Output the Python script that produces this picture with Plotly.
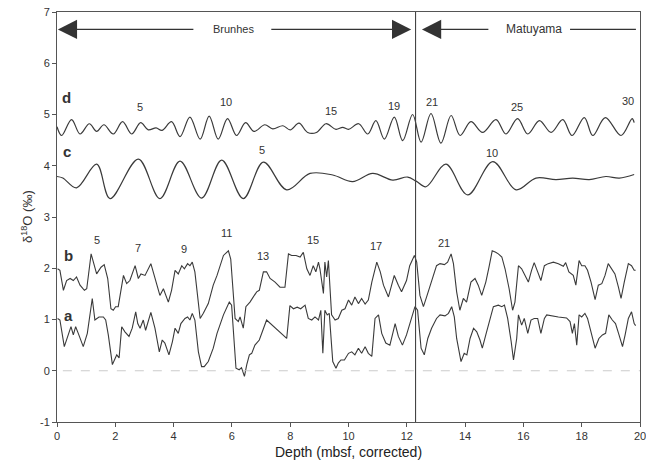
import plotly.graph_objects as go

# ---- data ----
d_x = [0.0, 0.16, 0.5, 0.79, 1.11, 1.36, 1.61, 1.93, 2.25, 2.56, 2.87, 3.13, 3.4, 3.6, 3.93, 4.22, 4.56, 4.91,
       5.22, 5.53, 5.85, 6.16, 6.47, 6.76, 7.13, 7.4, 7.75, 8.0, 8.3, 8.6, 8.9, 9.23, 9.57, 9.8, 10.0, 10.35,
       10.66, 10.94, 11.23, 11.57, 11.86, 12.2, 12.49, 12.83, 13.17, 13.52, 13.83, 14.2, 14.6, 15.06, 15.4,
       15.8, 16.15, 16.55, 16.95, 17.35, 17.67, 18.09, 18.38, 18.81, 19.35, 19.73, 19.8]
d_y = [4.76, 4.59, 4.9, 4.62, 4.82, 4.67, 4.8, 4.62, 4.86, 4.62, 4.84, 4.7, 4.74, 4.69, 4.86, 4.57, 4.95, 4.52,
       4.97, 4.52, 4.92, 4.59, 4.84, 4.67, 4.8, 4.72, 4.78, 4.7, 4.83, 4.65, 4.65, 4.82, 4.71, 4.75, 4.71, 4.82,
       4.62, 4.88, 4.52, 4.95, 4.49, 5.0, 4.46, 5.02, 4.44, 4.98, 4.59, 4.86, 4.65, 4.9, 4.62,
       4.92, 4.62, 4.88, 4.65, 4.9, 4.59, 4.94, 4.59, 4.94, 4.59, 4.92, 4.84]

c_x = [0.0, 0.2, 0.67, 1.36, 1.82, 2.79, 3.53, 4.22, 4.96, 5.65, 6.39, 7.08, 7.88, 8.68, 9.46, 10.14, 10.83,
       11.52, 12.03, 12.32, 12.66, 13.34, 14.09, 14.95, 15.75, 16.43, 17.12, 17.69, 18.26, 18.83, 19.29, 19.8]
c_y = [3.79, 3.76, 3.57, 4.03, 3.36, 4.13, 3.36, 4.09, 3.37, 4.11, 3.36, 4.07, 3.53, 3.85, 3.82, 3.69, 3.85,
       3.72, 3.78, 3.7, 3.59, 4.03, 3.43, 4.08, 3.53, 3.76, 3.73, 3.76, 3.73, 3.79, 3.76, 3.83]

b_x = [0.02, 0.1, 0.22, 0.33, 0.45, 0.56, 0.67, 0.79, 0.94, 1.02, 1.17, 1.28, 1.36, 1.51, 1.62, 1.74, 1.85, 1.93,
       2.01, 2.1, 2.28, 2.39, 2.5, 2.68, 2.79, 2.88, 3.02, 3.22, 3.36, 3.53, 3.65, 3.82, 3.93, 4.05, 4.16, 4.28,
       4.37, 4.48, 4.56, 4.64, 4.73, 4.91, 5.02, 5.19, 5.36, 5.49, 5.71, 5.88, 5.96, 6.11, 6.22, 6.28, 6.39, 6.48,
       6.62, 6.73, 6.85, 6.94, 7.08, 7.19, 7.31, 7.48, 7.65, 7.82, 7.94, 8.05, 8.2, 8.34, 8.45, 8.57, 8.68, 8.79,
       8.88, 8.97, 9.02, 9.14, 9.19, 9.25, 9.31, 9.42, 9.54, 9.65, 9.77, 9.88, 10.0, 10.11, 10.22, 10.34, 10.45,
       10.57, 10.68, 10.8, 10.97, 11.09, 11.2, 11.37, 11.57, 11.71, 11.82, 11.99, 12.1, 12.26, 12.34, 12.45, 12.57,
       12.68, 12.8, 12.91, 13.02, 13.14, 13.29, 13.4, 13.52, 13.6, 13.71, 13.82, 13.94, 14.05, 14.2, 14.34, 14.45,
       14.57, 14.71, 14.82, 14.93, 15.05, 15.14, 15.26, 15.37, 15.51, 15.63, 15.71, 15.83, 15.94, 16.05, 16.17,
       16.28, 16.37, 16.49, 16.6, 16.72, 16.85, 17.03, 17.2, 17.37, 17.45, 17.56, 17.71, 17.8, 17.91, 18.0, 18.11,
       18.2, 18.32, 18.46, 18.57, 18.69, 18.8, 18.91, 19.03, 19.14, 19.26, 19.35, 19.46, 19.6, 19.71, 19.8, 19.85]
b_y = [1.99, 1.96, 1.57, 1.76, 1.8, 1.76, 1.83, 1.67, 1.57, 1.6, 2.28, 2.02, 1.89, 2.02, 2.07, 1.8, 1.21, 1.18,
       1.25, 1.25, 1.86, 1.7, 1.76, 2.05, 1.8, 1.89, 1.86, 2.09, 1.8, 1.47, 1.6, 1.34, 1.57, 1.96, 1.89, 2.05,
       1.99, 2.09, 2.05, 2.12, 1.93, 1.02, 1.12, 1.31, 1.67, 1.86, 2.25, 2.34, 2.18, 1.02, 0.96, 1.05, 0.83, 1.25,
       1.34, 1.44, 1.54, 1.57, 1.93, 1.93, 1.8, 1.73, 1.63, 1.63, 2.28, 2.25, 2.25, 2.22, 2.31, 1.99, 1.86, 2.05,
       1.93, 2.12, 1.99, 1.51, 2.12, 1.83, 2.15, 1.09, 0.99, 1.02, 1.18, 1.21, 1.38, 1.28, 1.44, 1.31, 1.41,
       1.3, 1.38, 1.73, 2.12, 1.93, 1.67, 1.44, 1.86, 1.67, 1.54, 1.76, 2.05, 2.25, 2.12, 1.47, 1.25,
       1.44, 1.67, 1.86, 2.05, 2.09, 2.07, 2.12, 2.28, 2.09, 1.54, 1.18, 1.41, 1.34, 1.73, 1.8, 1.67,
       1.47, 1.73, 2.02, 2.34, 2.31, 2.28, 2.22, 1.99, 1.6, 1.18, 1.34, 2.05, 1.99, 1.86, 1.73,
       1.96, 2.11, 1.93, 1.76, 2.05, 2.09, 2.12, 2.09, 2.04, 2.11, 1.93, 1.86, 1.67, 2.15, 2.05, 2.05,
       1.96, 1.73, 1.39, 1.67, 1.7, 1.86, 2.09, 1.99, 1.89, 1.63, 1.41, 1.73, 2.09, 2.05, 1.96, 1.96]

a_x = [0.02, 0.1, 0.25, 0.37, 0.48, 0.56, 0.64, 0.73, 0.9, 1.04, 1.21, 1.3, 1.44, 1.59, 1.67, 1.76, 1.9, 1.97,
       2.05, 2.13, 2.22, 2.33, 2.47, 2.58, 2.7, 2.77, 2.85, 2.96, 3.04, 3.22, 3.36, 3.51, 3.61, 3.7, 3.84, 3.96,
       4.05, 4.16, 4.25, 4.39, 4.48, 4.56, 4.64, 4.73, 4.85, 4.96, 5.05, 5.19, 5.36, 5.49, 5.71, 5.91, 5.99, 6.14,
       6.25, 6.33, 6.43, 6.51, 6.6, 6.68, 6.79, 6.94, 7.19, 7.88, 7.99, 8.11, 8.24, 8.36, 8.51, 8.62, 8.74, 8.85,
       8.97, 9.05, 9.12, 9.19, 9.27, 9.34, 9.46, 9.57, 9.65, 9.74, 9.86, 10.0, 10.11, 10.22, 10.34, 10.45, 10.57,
       10.68, 10.8, 10.91, 11.03, 11.14, 11.28, 11.42, 11.6, 11.71, 11.85, 11.99, 12.17, 12.28, 12.37, 12.49,
       12.6, 12.72, 12.85, 13.02, 13.14, 13.31, 13.43, 13.54, 13.63, 13.71, 13.86, 13.97, 14.06, 14.17, 14.29,
       14.4, 14.51, 14.59, 14.71, 14.86, 14.97, 15.14, 15.26, 15.35, 15.46, 15.58, 15.66, 15.77, 15.83, 15.94,
       16.03, 16.15, 16.26, 16.37, 16.49, 16.6, 16.72, 16.8, 16.97, 17.2, 17.48, 17.6, 17.68, 17.75, 17.83, 17.91,
       18.0, 18.11, 18.2, 18.32, 18.46, 18.59, 18.71, 18.82, 18.93, 19.05, 19.16, 19.28, 19.4, 19.49, 19.6,
       19.71, 19.8, 19.85]
a_y = [1.02, 0.99, 0.47, 0.7, 0.86, 0.7, 0.86, 0.73, 0.47, 0.73, 1.41, 0.99, 1.05, 1.05, 0.99, 0.7, 0.12, 0.21,
       0.31, 0.25, 0.86, 0.76, 0.67, 0.83, 1.15, 0.92, 0.83, 0.99, 0.79, 1.14, 0.83, 0.37, 0.6, 0.54, 0.31, 0.57,
       0.83, 0.73, 0.92, 1.02, 1.05, 0.99, 1.12, 0.99, 0.37, 0.08, 0.08, 0.18, 0.44, 0.73, 1.09, 1.34, 1.28, 0.05,
       0.02, 0.06, -0.11, 0.12, 0.31, 0.34, 0.5, 0.6, 0.99, 0.63, 1.27, 1.21, 1.24, 1.21, 1.28, 1.02, 0.99, 1.05,
       0.99, 1.18, 0.34, 1.18, 1.09, 1.12, 0.18, 0.05, 0.15, 0.21, 0.21, 0.34, 0.37, 0.31, 0.44, 0.34, 0.47,
       0.34, 0.28, 1.02, 1.09, 0.73, 0.54, 0.5, 0.92, 0.67, 0.5, 0.7, 1.02, 1.25, 1.18, 0.44,
       0.31, 0.63, 0.83, 1.02, 1.09, 1.07, 1.12, 1.25, 1.05, 0.63, 0.18, 0.34, 0.31, 0.63, 0.83,
       0.76, 0.6, 0.44, 0.7, 1.02, 1.25, 1.28, 1.25, 1.28, 1.02, 0.57, 0.21, 0.63, 1.09, 0.89,
       1.02, 0.73, 0.99, 1.02, 1.02, 0.73, 1.02, 1.09, 1.07, 1.05, 1.03, 0.96, 0.73, 0.92, 0.5, 1.09,
       1.05, 1.12, 1.02, 0.76, 0.44, 0.63, 0.7, 0.73, 1.09, 0.99, 0.92, 0.7, 0.47, 0.7, 1.02,
       1.15, 0.92, 0.88]

# stage labels
d_lab = ["5", "10", "15", "19", "21", "25", "30"]
d_lab_x = [2.85, 5.8, 9.4, 11.56, 12.86, 15.78, 19.6]
d_lab_y = [5.15, 5.25, 5.07, 5.17, 5.25, 5.15, 5.27]
c_lab = ["5", "10"]
c_lab_x = [7.03, 14.92]
c_lab_y = [4.3, 4.24]
b_lab = ["5", "7", "9", "11", "13", "15", "17", "21"]
b_lab_x = [1.37, 2.78, 4.36, 5.8, 7.07, 8.78, 10.94, 13.28]
b_lab_y = [2.55, 2.4, 2.38, 2.69, 2.24, 2.55, 2.44, 2.5]
curve_names = ["d", "c", "b", "a"]
curve_name_x = [0.34, 0.34, 0.38, 0.38]
curve_name_y = [5.34, 4.28, 2.24, 1.08]

boundary_depth = 12.3
chron_y = 6.66
x_ticks = list(range(0, 21, 2))
y_ticks = list(range(-1, 8))

LINE = "#3a3a3a"
TXT = "#333333"
FONT = "Liberation Sans, Arial, sans-serif"

fig = go.Figure()
for xs, ys in [(d_x, d_y), (c_x, c_y)]:
    fig.add_trace(go.Scatter(x=xs, y=ys, mode="lines", line=dict(color=LINE, width=1.2, shape="spline", smoothing=1.0),
                             hoverinfo="skip", showlegend=False))
for xs, ys in [(b_x, b_y), (a_x, a_y)]:
    fig.add_trace(go.Scatter(x=xs, y=ys, mode="lines", line=dict(color=LINE, width=1.1),
                             hoverinfo="skip", showlegend=False))

# zero dashed line and boundary line
fig.add_shape(type="line", xref="x", yref="y", x0=0.2, x1=20, y0=0, y1=0,
              line=dict(color="#cccccc", width=1.2, dash="dash"))
fig.add_shape(type="line", xref="x", yref="y", x0=boundary_depth, x1=boundary_depth, y0=-1, y1=7,
              line=dict(color="#444", width=1.1))

ann = []
def txt(x, y, s, size=11, bold=False):
    ann.append(dict(x=x, y=y, xref="x", yref="y", text=("<b>%s</b>" % s) if bold else s, showarrow=False,
                    font=dict(family=FONT, size=size, color=TXT)))

for s, x, y in zip(d_lab, d_lab_x, d_lab_y):
    txt(x, y, s)
for s, x, y in zip(c_lab, c_lab_x, c_lab_y):
    txt(x, y, s)
for s, x, y in zip(b_lab, b_lab_x, b_lab_y):
    txt(x, y, s)
for s, x, y in zip(curve_names, curve_name_x, curve_name_y):
    txt(x, y, s, size=15, bold=True)

# chron arrows
def arrow(tip, tail):
    ann.append(dict(x=tip, y=chron_y, ax=tail, ay=chron_y, xref="x", yref="y", axref="x", ayref="y",
                    text="", showarrow=True, arrowhead=2, arrowsize=3.2, arrowwidth=1.2, arrowcolor="#333"))
arrow(0.03, 4.73)
arrow(12.15, 7.3)
arrow(12.52, 14.85)
fig.add_shape(type="line", xref="x", yref="y", x0=17.6, x1=19.86, y0=chron_y, y1=chron_y,
              line=dict(color="#333", width=1.2))
txt(6.04, chron_y, "Brunhes", size=11)
txt(16.36, chron_y, "Matuyama", size=12)

# axis titles
ann.append(dict(x=0, y=0.5, xref="paper", yref="paper", xshift=-40, text="δ<sup>18</sup>O (‰)", textangle=-90,
                showarrow=False, font=dict(family=FONT, size=13, color=TXT)))
ann.append(dict(x=0.5, y=0, xref="paper", yref="paper", yanchor="middle", yshift=-30,
                text="Depth (mbsf, corrected)", showarrow=False, font=dict(family=FONT, size=14, color="#222")))

fig.update_layout(
    width=646, height=460,
    margin=dict(l=57, r=6, t=12, b=38),
    paper_bgcolor="white", plot_bgcolor="white",
    annotations=ann,
    font=dict(family=FONT, size=11, color=TXT),
)
fig.update_xaxes(range=[0, 20], tickvals=x_ticks, ticktext=[str(v) for v in x_ticks], showgrid=False, zeroline=False,
                 showline=True, linecolor="#555", linewidth=1.1, mirror=True, ticks="outside", ticklen=4,
                 tickcolor="#555", tickfont=dict(size=11, color=TXT), ticklabeloverflow="allow", automargin=False)
fig.update_yaxes(range=[-1, 7], tickvals=y_ticks, ticktext=[str(v) for v in y_ticks], showgrid=False, zeroline=False,
                 showline=True, linecolor="#555", linewidth=1.1, mirror=True, ticks="outside", ticklen=4,
                 tickcolor="#555", tickfont=dict(size=11, color=TXT), automargin=False)

fig.write_html("out.html")
